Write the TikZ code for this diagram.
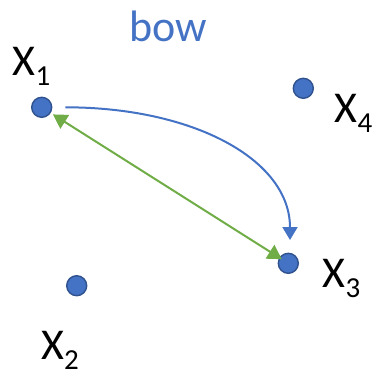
\documentclass[tikz,border=0pt]{standalone}
\usepackage{fontspec}
\setmainfont{Carlito}
\usetikzlibrary{arrows.meta}
\definecolor{dotblue}{HTML}{4472C4}
\definecolor{dotedge}{HTML}{2F528F}
\definecolor{arrgreen}{HTML}{70AD47}
\newcommand{\varlab}[1]{X\raisebox{-10pt}{\fontsize{29}{30}\selectfont #1}}
\begin{document}
\begin{tikzpicture}[x=1pt,y=-1pt,
  dot/.style={circle,minimum size=20pt,inner sep=0pt,fill=dotblue,draw=dotedge,line width=1.4pt},
  lab/.style={anchor=base west,inner sep=0pt,font=\fontsize{44}{48}\selectfont},
  bluearr/.style={draw=dotblue,line width=2pt,-{Triangle[length=13pt,width=15pt]}},
  greenarr/.style={draw=arrgreen,line width=2pt,{Triangle[length=14pt,width=16pt]}-{Triangle[length=14pt,width=16pt]}}]
\useasboundingbox (0,0) rectangle (374,375);
\node[dot] (x1) at (41.7,107.3) {};
\node[dot] (x4) at (303.3,88.3) {};
\node[dot] (x3) at (288.3,263.3) {};
\node[dot] (x2) at (76.7,285.7) {};
\node[lab] (l1) at (12.5,75) {\varlab{1}};
\node[lab] (l4) at (334.5,122.7) {\varlab{4}};
\node[lab] (l3) at (322.5,287.3) {\varlab{3}};
\node[lab] (l2) at (41,359) {\varlab{2}};
\node[lab,text=dotblue] (bow) at (129,41.7) {bow};
\draw[bluearr] ([xshift=13pt]x1.east) .. controls ([xshift=141pt]x1.east) and ([xshift=1.7pt,yshift=93pt]x3.north) .. ([xshift=1.7pt,yshift=12.6pt]x3.north);
\draw[greenarr,shorten <=2.6pt,shorten >=-3pt] (x1) -- (x3);
\end{tikzpicture}
\end{document}
